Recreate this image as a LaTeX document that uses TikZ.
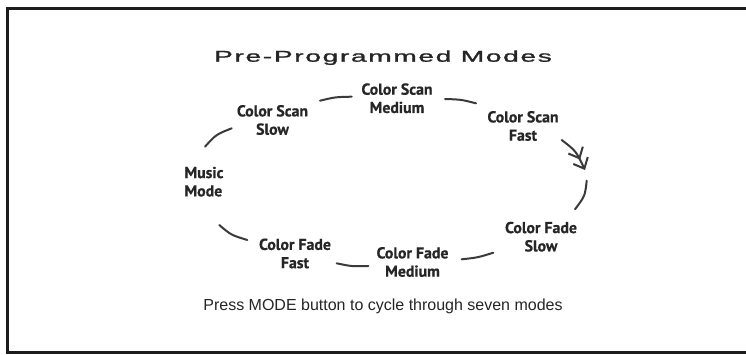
\documentclass[tikz,border=0pt]{standalone}
\usepackage{fontspec}
\usetikzlibrary{arrows.meta}
\setmainfont{Liberation Sans}
\newfontfamily\labelfont{PT Sans}[FakeBold=0.6]
\newfontfamily\titlefont{Liberation Sans}[LetterSpace=6,FakeBold=1.2]
\definecolor{ink}{HTML}{262626}
\definecolor{line}{HTML}{3A3A3A}
\definecolor{frame}{HTML}{1C1C1C}
\begin{document}
\begin{tikzpicture}[x=1pt,y=-1pt,
  lbl/.style={font=\labelfont\bfseries\fontsize{15.8}{18.3}\selectfont, text=ink, align=center, inner sep=0pt},
  conn/.style={draw=line, line width=2pt, line cap=round},
  dbl/.style={-{Straight Barb[length=9pt,width=16pt,line width=2pt] Straight Barb[length=9pt,width=16pt,line width=2pt]}}
]
\useasboundingbox (0,0) rectangle (746,354);
\fill[white] (0,0) rectangle (746,354);
% frame
\draw[frame, line width=3pt] (746,8.5) -- (7.5,8.5) -- (7.5,352.5) -- (746,352.5);
% title
\node[anchor=base, inner sep=0pt, text=ink, font=\titlefont\fontsize{15.6}{18}\selectfont] (title) at (383,61.7) {\scalebox{1.8}[1]{Pre-Programmed Modes}};
% labels
\node[lbl] (csm) at (397,98.3) {Color Scan\\Medium};
\node[lbl] (css) at (272.5,120) {Color Scan\\Slow};
\node[lbl] (csf) at (523,126) {Color Scan\\Fast};
\node[lbl, align=left] (mm) at (204,181.7) {Music\\Mode};
\node[lbl] (cfs) at (541,236.7) {Color Fade\\Slow};
\node[lbl] (cfm) at (412.5,262) {Color Fade\\Medium};
\node[lbl] (cff) at (295,253.5) {Color Fade\\Fast};
% bottom text
\node[anchor=base, inner sep=0pt, text=ink, font=\fontsize{16}{19}\selectfont] (note) at (383,310) {Press MODE button to cycle through seven modes};
% connector end points
\coordinate (a1) at (320,100.7); \coordinate (a2) at (351.7,96.7);
\coordinate (b1) at (445,99);    \coordinate (b2) at (476,103.3);
\coordinate (c1) at (205,146.7); \coordinate (c2) at (231.7,128.3);
\coordinate (d1) at (561.7,140); \coordinate (d2) at (585,170);
\coordinate (e1) at (586.7,180.7); \coordinate (e2) at (575,209.3);
\coordinate (f1) at (493.3,252.7); \coordinate (f2) at (461.7,259.3);
\coordinate (g1) at (368.3,266); \coordinate (g2) at (336.7,263.3);
\coordinate (h1) at (247.3,240); \coordinate (h2) at (219.3,225);
% connectors
\draw[conn] (a1) .. controls (335.5,97) .. (a2);
\draw[conn] (b1) .. controls (461,99.5) .. (b2);
\draw[conn] (c1) .. controls (216,134.5) .. (c2);
\draw[conn, dbl] (d1) .. controls (576,151) .. (d2);
\draw[conn] (e1) .. controls (585,196) .. (e2);
\draw[conn] (f1) .. controls (478,257.5) .. (f2);
\draw[conn] (g1) .. controls (352,266.5) .. (g2);
\draw[conn] (h1) .. controls (231,235) .. (h2);
\end{tikzpicture}
\end{document}
